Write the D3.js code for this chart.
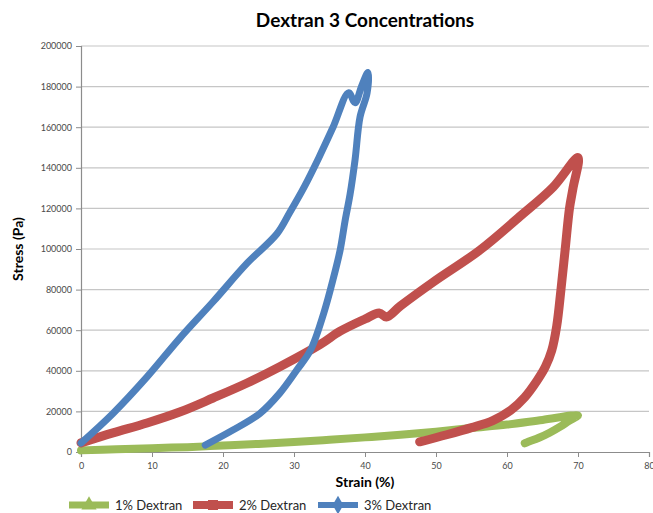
<!DOCTYPE html>
<html>
<head>
<meta charset="utf-8">
<script src="https://cdn.jsdelivr.net/npm/d3@7"></script>
<style>
  body { margin: 0; background: #fff; }
  svg { font-family: Lato, "Open Sans", sans-serif; }
</style>
</head>
<body>
<svg id="chart"></svg>
<script>
// values: [strain %, stress Pa]
const dextran1 = [
  [0, 800], [5, 1300], [10, 1900], [15, 2400], [20, 3200], [25, 4000], [30, 4900],
  [35, 6000], [40, 7200], [45, 8500], [50, 10000], [55, 11800], [60, 13500],
  [65, 15800], [70, 18000], [68.8, 15500], [67.5, 12500], [66, 9500],
  [64.5, 7000], [63, 5000], [62.5, 4300]
];
const dextran2 = [
  [0, 4500], [4.5, 9400], [9.3, 14300], [13.9, 19700], [18.6, 26600], [23.4, 34000],
  [28, 42000], [33.7, 53000], [36.5, 59500], [40, 65500], [42, 68500], [43, 66500],
  [45, 72000], [49.6, 83700], [56.2, 99500], [61.8, 116000], [66.5, 130500], [70, 145000],
  [69.3, 130000], [68.8, 120000], [68.2, 100000], [67.6, 80000], [67, 62000],
  [66.3, 50000], [65.4, 42000], [64.2, 35000], [62.5, 27000], [60.5, 20500], [58, 15500],
  [55, 12000], [51.5, 8500], [47.7, 5000]
];
const dextran3 = [
  [0, 4400], [4.5, 19000], [9.3, 37000], [13.9, 56000], [18.6, 74000], [23.4, 93000],
  [27.6, 107500], [29.4, 118000], [31.5, 131000], [33.5, 145000], [35.5, 160000],
  [37.7, 177000], [38.6, 172000], [39.5, 180000], [40.4, 187000], [40.3, 177000],
  [39.3, 165000], [38.6, 144000], [37.9, 127000], [37.2, 114000], [36.5, 99500],
  [35.5, 85000], [34.2, 68500], [32.3, 50000], [30.4, 40400], [28, 29000],
  [25.2, 19000], [21.4, 10800], [17.5, 3400]
];
const seriesNames = ["1% Dextran", "2% Dextran", "3% Dextran"];
const xTicks = [0, 10, 20, 30, 40, 50, 60, 70, 80];
const yTicks = [0, 20000, 40000, 60000, 80000, 100000, 120000, 140000, 160000, 180000, 200000];

const width = 653, height = 513;
const m = {left: 81, right: 4, top: 46, bottom: 61};

const svg = d3.select("#chart").attr("width", width).attr("height", height);

const x = d3.scaleLinear().domain([0, 80]).range([m.left, width - m.right]);
const y = d3.scaleLinear().domain([0, 200000]).range([height - m.bottom, m.top]);

// grid
svg.append("g")
  .selectAll("line")
  .data(yTicks.slice(1))
  .join("line")
  .attr("x1", x(0)).attr("x2", x(80))
  .attr("y1", d => y(d)).attr("y2", d => y(d))
  .attr("stroke", "#c6c6c6").attr("stroke-width", 1.2);

const xAxis = svg.append("g")
  .attr("transform", "translate(0," + y(0) + ")")
  .call(d3.axisBottom(x).tickValues(xTicks).tickSize(5).tickPadding(6));
const yAxis = svg.append("g")
  .attr("transform", "translate(" + x(0) + ",0)")
  .call(d3.axisLeft(y).tickValues(yTicks).tickFormat(d3.format("d")).tickSize(5).tickPadding(4));

[xAxis, yAxis].forEach(a => {
  a.select(".domain").attr("stroke", "#8c8c8c").attr("stroke-width", 1.2);
  a.selectAll(".tick line").attr("stroke", "#8c8c8c");
  a.selectAll(".tick text").attr("fill", "#4a4a4a").style("font-size", "9px")
    .style("font-family", "Lato, sans-serif");
});

const line = d3.line().x(d => x(d[0])).y(d => y(d[1])).curve(d3.curveCatmullRom.alpha(0.5));

const series = [
  {data: dextran1, color: "#9bbb59", sym: d3.symbolTriangle, w: 8},
  {data: dextran2, color: "#c0504d", sym: d3.symbolSquare, w: 9},
  {data: dextran3, color: "#4f81bd", sym: d3.symbolDiamond, w: 7}
];

series.forEach(s => {
  svg.append("path")
    .datum(s.data)
    .attr("d", line)
    .attr("fill", "none")
    .attr("stroke", s.color)
    .attr("stroke-width", s.w)
    .attr("stroke-linejoin", "round")
    .attr("stroke-linecap", "round");
});

// title and axis labels
svg.append("text")
  .attr("x", 365).attr("y", 27)
  .attr("text-anchor", "middle")
  .style("font-size", "19px").style("font-weight", "bold")
  .attr("fill", "#000")
  .text("Dextran 3 Concentrations");

svg.append("text")
  .attr("x", 365).attr("y", 487)
  .attr("text-anchor", "middle")
  .style("font-size", "14px").style("font-weight", "bold")
  .text("Strain (%)");

svg.append("text")
  .attr("transform", "translate(23,249) rotate(-90)")
  .attr("text-anchor", "middle")
  .style("font-size", "14px").style("font-weight", "bold")
  .text("Stress (Pa)");

// legend
const legendX = [69, 193, 318];
const legend = svg.append("g").attr("transform", "translate(0,505)");
series.forEach((s, i) => {
  const g = legend.append("g").attr("transform", "translate(" + legendX[i] + ",0)");
  g.append("line").attr("x1", 0).attr("x2", 40).attr("y1", 0).attr("y2", 0)
    .attr("stroke", s.color).attr("stroke-width", s.w - 1);
  g.append("path").attr("transform", "translate(20,0)")
    .attr("d", d3.symbol().type(s.sym).size(100)).attr("fill", s.color);
  g.append("text").attr("x", 46).attr("y", 5)
    .style("font-size", "13px").attr("fill", "#262626")
    .text(seriesNames[i]);
});
</script>
</body>
</html>
